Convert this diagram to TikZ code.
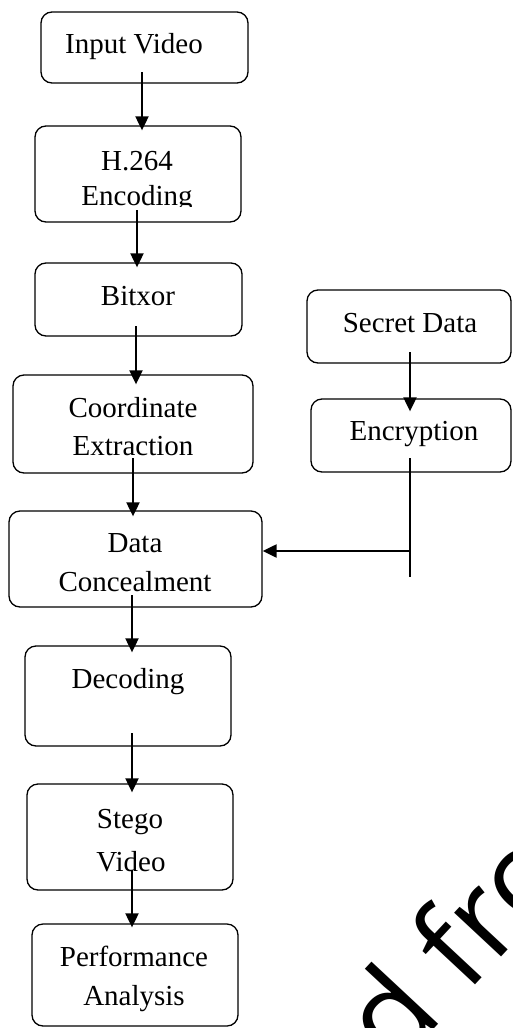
\documentclass[tikz,border=0pt]{standalone}
\usepackage{fontspec}
\setmainfont{Liberation Serif}
\newfontfamily\wmfont{Open Sans}
\usetikzlibrary{arrows.meta,calc}
\begin{document}
\begin{tikzpicture}[x=1pt,y=-1pt,
  box/.style={draw, line width=1.3pt, rounded corners=11pt, inner sep=0pt},
  lbl/.style={font=\fontsize{29}{34}\selectfont, inner sep=0pt, anchor=base},
  arr/.style={line width=2pt, -{Triangle[length=14pt,width=13pt]}},
  thinline/.style={line width=1.3pt},
  thickline/.style={line width=2.2pt, -{Triangle[length=14pt,width=13pt]}}]
\useasboundingbox (0,0) rectangle (512,1028);
\clip (0,0) rectangle (512,1028);
% boxes
\node[box, minimum width=207, minimum height=71]  (iv)   at (144.5,47.5) {};
\node[box, minimum width=206, minimum height=96]  (h264) at (138,174) {};
\node[box, minimum width=207, minimum height=73]  (bx)   at (138.5,299.5) {};
\node[box, minimum width=240, minimum height=98]  (ce)   at (133,424) {};
\node[box, minimum width=253, minimum height=96]  (dc)   at (135.5,559) {};
\node[box, minimum width=206, minimum height=100] (dec)  at (128,696) {};
\node[box, minimum width=206, minimum height=106] (sv)   at (130,837) {};
\node[box, minimum width=206, minimum height=102] (pa)   at (135,975) {};
\node[box, minimum width=204, minimum height=73]  (sd)   at (409,326.5) {};
\node[box, minimum width=200, minimum height=73]  (en)   at (411,435.5) {};
% labels
\node[lbl] (t-iv)  at (134,53)  {Input Video};
\node[lbl] (t-h1)  at (137,170) {H.264};
\begin{scope}
\clip (0,180) rectangle (512,206);
\node[lbl] (t-h2)  at (137,205) {Encoding};
\end{scope}
\node[lbl] (t-bx)  at (138,305) {Bitxor};
\node[lbl] (t-ce1) at (133,417) {Coordinate};
\node[lbl] (t-ce2) at (133,455) {Extraction};
\node[lbl] (t-dc1) at (135,552) {Data};
\node[lbl] (t-dc2) at (135,591) {Concealment};
\node[lbl] (t-dec) at (128,688) {Decoding};
\node[lbl] (t-sv1) at (130,828) {Stego};
\node[lbl] (t-sv2) at (131,871) {Video};
\node[lbl] (t-pa1) at (134,966) {Performance};
\node[lbl] (t-pa2) at (134,1005) {Analysis};
\node[lbl] (t-sd)  at (410,332) {Secret Data};
\node[lbl] (t-en)  at (414,440) {Encryption};
% connector start points
\coordinate (a1) at (142,72);
\coordinate (a2) at (137,210);
\coordinate (a3) at (136,326);
\coordinate (a4) at (133,458);
\coordinate (a5) at (132,595);
\coordinate (a6) at (132,733);
\coordinate (a7) at (132,870);
\coordinate (a8) at (410,352);
\coordinate (v1) at (410,458);
\coordinate (v2) at (410,577);
\coordinate (j)  at (410,551);
% connectors
\draw[arr] (a1) -- ($(a1 |- h264.north)+(0,5)$);
\draw[arr] (a2) -- ($(a2 |- bx.north)+(0,5)$);
\draw[arr] (a3) -- ($(a3 |- ce.north)+(0,10)$);
\draw[arr] (a4) -- ($(a4 |- dc.north)+(0,6)$);
\draw[arr] (a5) -- ($(a5 |- dec.north)+(0,7)$);
\draw[arr] (a6) -- ($(a6 |- sv.north)+(0,9)$);
\draw[arr] (a7) -- ($(a7 |- pa.north)+(0,4)$);
\draw[arr] (a8) -- ($(a8 |- en.north)+(0,13)$);
\draw[thinline] (v1) -- (v2);
\draw[thickline] (j) -- (j -| dc.east);
% watermark fragment
\node[font=\wmfont\fontsize{120}{120}\selectfont, rotate=47, anchor=base west, inner sep=0pt] (wm) at (395,1071) {d fro};
\end{tikzpicture}
\end{document}
